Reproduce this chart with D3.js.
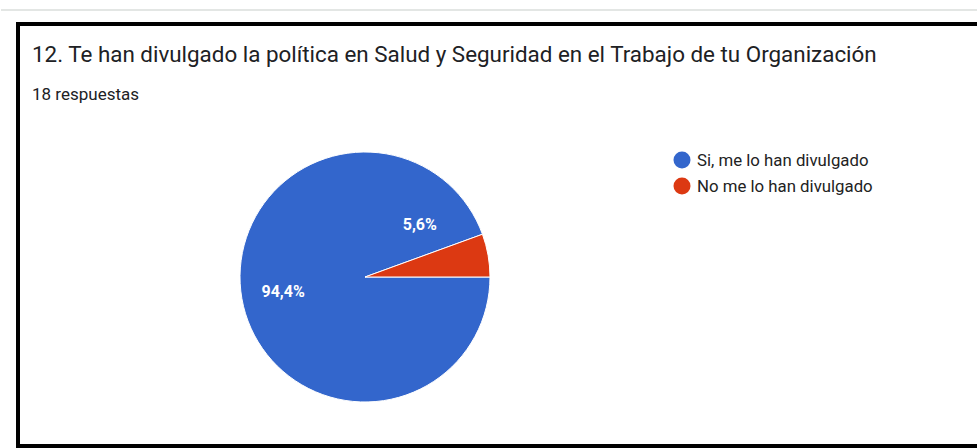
<!DOCTYPE html>
<html>
<head>
<meta charset="utf-8">
<script src="https://cdn.jsdelivr.net/npm/d3@7"></script>
<style>
  body { margin: 0; background: #fff; }
  svg { display: block; font-family: Roboto, Arial, sans-serif; }
</style>
</head>
<body>
<svg id="chart" width="977" height="448"></svg>
<script>
// datos de la encuesta
var titulo = "12. Te han divulgado la política en Salud y Seguridad en el Trabajo de tu Organización";
var subtitulo = "18 respuestas";
var categorias = ["Si, me lo han divulgado", "No me lo han divulgado"];
var valores = [17, 1];
var colores = ["#3366cc", "#dc3912"];

function piechart(){
    var svg = d3.select("#chart");

    // linea gris de arriba y marco negro
    svg.append("rect")
        .attr("x", 1).attr("y", 9)
        .attr("width", 977).attr("height", 2)
        .attr("fill", "#e3e6e4");
    svg.append("rect")
        .attr("x", 18).attr("y", 24)
        .attr("width", 970).attr("height", 422)
        .attr("fill", "#fff")
        .attr("stroke", "#000")
        .attr("stroke-width", 4);

    svg.append("text")
        .attr("x", 32).attr("y", 62)
        .attr("font-size", "22.4px")
        .attr("fill", "#202124")
        .text(titulo);
    svg.append("text")
        .attr("x", 32).attr("y", 100)
        .attr("font-size", "17px")
        .attr("fill", "#202124")
        .text(subtitulo);

    var cx = 365, cy = 277, r = 125;
    var total = d3.sum(valores);
    var datos = categorias.map(function(c, i) { return {cat: c, val: valores[i], col: colores[i]}; });

    // empieza a las 3 en punto, como Google
    var pie = d3.pie()
        .sort(null)
        .value(function(d) { return d.val; })
        .startAngle(Math.PI / 2)
        .endAngle(Math.PI / 2 + 2 * Math.PI);
    var arc = d3.arc().innerRadius(0).outerRadius(r);
    var arcos = pie(datos);

    var g = svg.append("g").attr("transform", "translate(" + cx + "," + cy + ")");
    g.selectAll("path")
        .data(arcos)
        .enter()
        .append("path")
            .attr("d", arc)
            .attr("fill", function(d) { return d.data.col; })
            .attr("stroke", "#fff")
            .attr("stroke-width", 1);

    var fmt = function(v) { return (v / total * 100).toFixed(1).replace(".", ",") + "%"; };
    g.selectAll("text.lbl")
        .data(arcos)
        .enter()
        .append("text")
            .attr("class", "lbl")
            .attr("transform", function(d) {
                var a = (d.startAngle + d.endAngle) / 2, rr = 0.665 * r;
                // porciones chicas: la etiqueta va arriba, fuera de la porcion
                if (d.endAngle - d.startAngle < 0.5) { a = d.startAngle - 0.42; rr = 0.61 * r; }
                return "translate(" + (Math.sin(a) * rr) + "," + (-Math.cos(a) * rr) + ")";
            })
            .attr("dy", "0.35em")
            .attr("text-anchor", "middle")
            .attr("font-size", "16px")
            .attr("font-weight", "bold")
            .attr("fill", "#fff")
            .text(function(d) { return fmt(d.data.val); });

    // leyenda
    var leg = svg.selectAll("g.leg")
        .data(datos)
        .enter()
        .append("g")
            .attr("class", "leg")
            .attr("transform", function(d, i) { return "translate(682," + (160 + i * 26) + ")"; });
    leg.append("circle")
        .attr("r", 8.5)
        .attr("fill", function(d) { return d.col; });
    leg.append("text")
        .attr("x", 15)
        .attr("dy", "0.35em")
        .attr("font-size", "16.8px")
        .attr("fill", "#222")
        .text(function(d) { return d.cat; });
}

piechart();
</script>
</body>
</html>
